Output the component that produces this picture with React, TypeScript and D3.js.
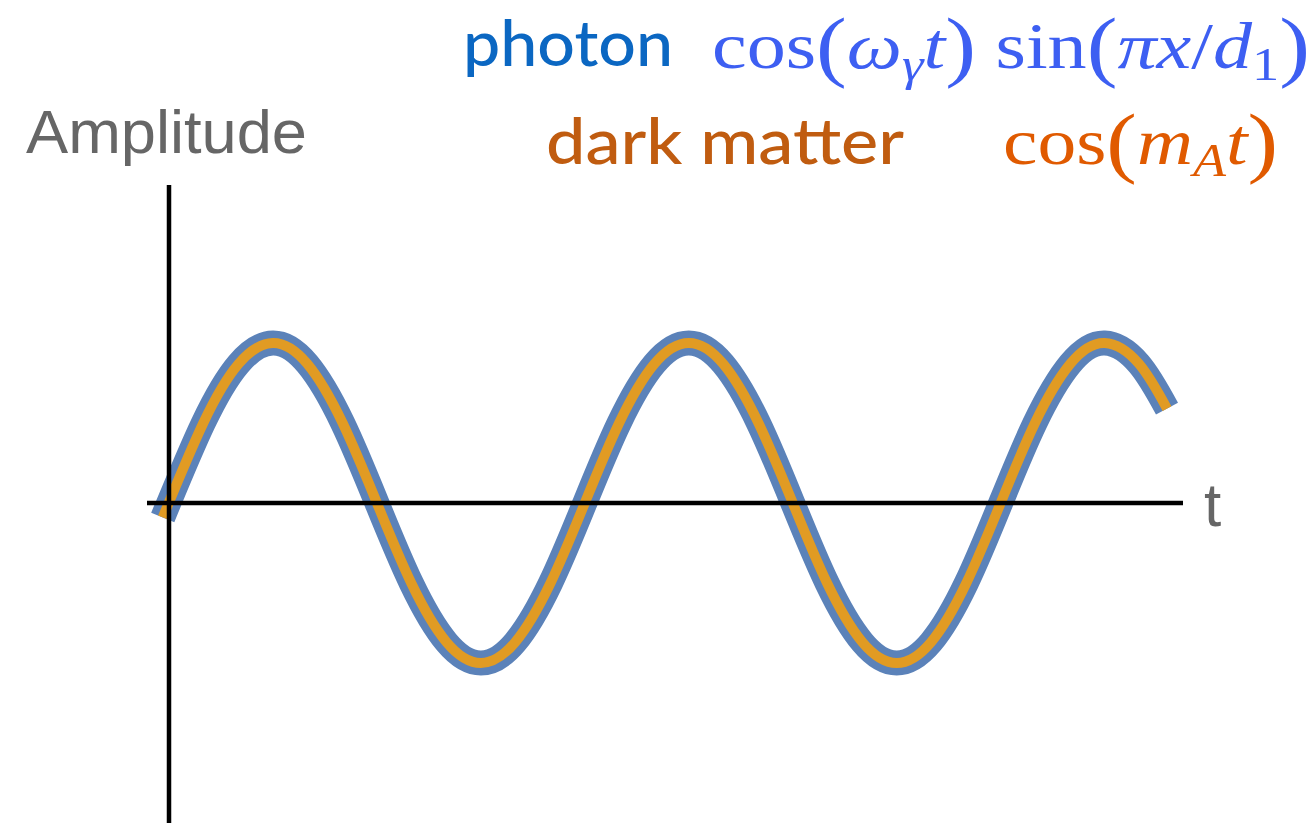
import React from 'react';
import * as d3 from 'd3';

// Curve samples (t in quarter-period units, amplitude normalised)
const tValues = [-0.06, 0.33, 0.67, 1, 1.33, 1.67, 2, 2.33, 2.67, 3, 3.33, 3.67, 4, 4.33, 4.67, 5, 5.33, 5.67, 6, 6.33, 6.67, 7, 7.33, 7.67, 8, 8.33, 8.67, 9, 9.33, 9.6];
const ampValues = [-0.09, 0.5, 0.87, 1, 0.87, 0.5, 0, -0.5, -0.87, -1, -0.87, -0.5, 0, 0.5, 0.87, 1, 0.87, 0.5, 0, -0.5, -0.87, -1, -0.87, -0.5, 0, 0.5, 0.87, 1, 0.87, 0.59];

const xAxisLabel = 't';
const yAxisLabel = 'Amplitude';
const seriesNames = ['photon', 'dark matter'];

const W = 1316;
const H = 823;

export default function App() {
  const x = d3.scaleLinear().domain([0, 9.6]).range([169, 1167]);
  const y = d3.scaleLinear().domain([-1, 1]).range([663, 343]);
  const pts = tValues.map((t, i) => [t, ampValues[i]] as [number, number]);
  const line = d3
    .line<[number, number]>()
    .x((d) => x(d[0]))
    .y((d) => y(d[1]))
    .curve(d3.curveNatural);
  const path = line(pts) || '';

  const gill = "Lato, 'Open Sans', sans-serif";
  const serif = "'Liberation Serif', 'DejaVu Serif', serif";

  return (
    <svg
      width={W}
      height={H}
      style={{ position: 'absolute', left: 0, top: 0, background: '#fff' }}
    >
      <rect x={0} y={0} width={W} height={H} fill="#fff" />
      {/* curve */}
      <path d={path} fill="none" stroke="#5b82b9" strokeWidth={25} strokeLinecap="butt" strokeLinejoin="round" />
      <path d={path} fill="none" stroke="#e19b23" strokeWidth={10} strokeLinecap="butt" strokeLinejoin="round" />

      {/* axes */}
      <line x1={169} x2={169} y1={185} y2={H} stroke="#000" strokeWidth={4.5} />
      <line x1={147} x2={1183} y1={y(0)} y2={y(0)} stroke="#000" strokeWidth={4.5} />

      {/* axis labels */}
      <text x={26} y={153} fontFamily="'Liberation Sans', Arial, sans-serif" fontSize={62} fill="#666" textLength={281} lengthAdjust="spacingAndGlyphs">
        {yAxisLabel}
      </text>
      <text x={1204} y={526} fontFamily="'Liberation Sans', Arial, sans-serif" fontSize={62} fill="#666">
        {xAxisLabel}
      </text>

      {/* legend names */}
      <text x={463} y={66} fontFamily={gill} fontWeight={500} fontSize={64} fill="#0b67c2" textLength={210} lengthAdjust="spacingAndGlyphs">
        {seriesNames[0]}
      </text>
      <text x={546} y={164} fontFamily={gill} fontWeight={500} fontSize={64} fill="#c05c10" textLength={358} lengthAdjust="spacingAndGlyphs">
        {seriesNames[1]}
      </text>

      {/* formulas */}
      <text x={712} y={68} fontFamily={serif} fontSize={66} fill="#3d5ff2" textLength={598} lengthAdjust="spacingAndGlyphs">
        <tspan>cos</tspan>
        <tspan fontSize={78} dy={4}>(</tspan>
        <tspan fontStyle="italic" dy={-4}>ω</tspan>
        <tspan fontStyle="italic" fontSize={46} dy={12}>γ</tspan>
        <tspan fontStyle="italic" dy={-12}>t</tspan>
        <tspan fontSize={78} dy={4}>)</tspan>
        <tspan dy={-4}> sin</tspan>
        <tspan fontSize={78} dy={4}>(</tspan>
        <tspan fontStyle="italic" dy={-4}>πx</tspan>
        <tspan>/</tspan>
        <tspan fontStyle="italic">d</tspan>
        <tspan fontSize={46} dy={12}>1</tspan>
        <tspan fontSize={78} dy={-8}>)</tspan>
      </text>
      <text x={1003} y={164} fontFamily={serif} fontSize={66} fill="#e05a00" textLength={275} lengthAdjust="spacingAndGlyphs">
        <tspan>cos</tspan>
        <tspan fontSize={78} dy={4}>(</tspan>
        <tspan fontStyle="italic" dy={-4}>m</tspan>
        <tspan fontStyle="italic" fontSize={46} dy={12}>A</tspan>
        <tspan fontStyle="italic" dy={-12}>t</tspan>
        <tspan fontSize={78} dy={4}>)</tspan>
      </text>
    </svg>
  );
}
